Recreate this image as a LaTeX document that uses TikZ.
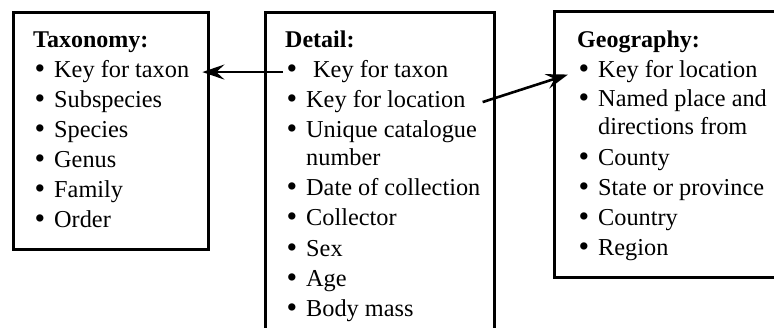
\documentclass[tikz,border=0pt]{standalone}
\usepackage{fontspec}
\setmainfont{Liberation Serif}
\usetikzlibrary{arrows.meta}
\newcommand{\bul}[1][20pt]{\makebox[#1][l]{\hspace{0.5pt}\raisebox{-0.6pt}{\scalebox{1.25}{•}}}}
\begin{document}
\begin{tikzpicture}[x=1pt,y=-1pt,
  box/.style={draw,line width=2.8pt,anchor=north west,inner sep=0pt},
  txt/.style={anchor=base west,inner sep=0pt,font=\fontsize{24.3}{30}\selectfont},
  hd/.style={txt,font=\fontsize{24}{30}\selectfont\bfseries},
  arr/.style={line width=2.6pt,-{Stealth[length=22pt,width=15pt,inset=8pt]}}]
\useasboundingbox (0,0) rectangle (774,328);
% boxes
\node[box,minimum width=195pt,minimum height=237pt] (taxbox) at (12,11) {};
\node[box,minimum width=229pt,minimum height=330pt] (detbox) at (264,11) {};
\node[box,minimum width=230pt,minimum height=266pt] (geobox) at (553,10) {};
% Taxonomy
\node[hd] (th) at (33,48) {Taxonomy:};
\node[txt] (t1) at (34,78) {\bul Key for taxon};
\node[txt] (t2) at (34,108) {\bul Subspecies};
\node[txt] (t3) at (34,138) {\bul Species};
\node[txt] (t4) at (34,168) {\bul Genus};
\node[txt] (t5) at (34,198) {\bul Family};
\node[txt] (t6) at (34,228) {\bul Order};
% Detail
\node[hd] (dh) at (285,48) {Detail:};
\node[txt] (d1) at (286,78) {\bul[27pt]Key for taxon};
\node[txt] (d2) at (286,108) {\bul Key for location};
\node[txt] (d3) at (286,138) {\bul Unique catalogue};
\node[txt] (d3b) at (306,166) {number};
\node[txt] (d4) at (286,196) {\bul Date of collection};
\node[txt] (d5) at (286,226) {\bul Collector};
\node[txt] (d6) at (286,257) {\bul Sex};
\node[txt] (d7) at (286,287) {\bul Age};
\node[txt] (d8) at (286,317) {\bul Body mass};
% Geography
\node[hd] (gh) at (577,48) {Geography:};
\node[txt] (g1) at (578,78) {\bul Key for location};
\node[txt] (g2) at (578,107) {\bul Named place and};
\node[txt] (g2b) at (598,135) {directions from};
\node[txt] (g3) at (578,166) {\bul County};
\node[txt] (g4) at (578,196) {\bul State or province};
\node[txt] (g5) at (578,226) {\bul Country};
\node[txt] (g6) at (578,256) {\bul Region};
% arrows
\draw[arr] ([xshift=-3pt]d1.west) -- ([xshift=13pt]t1.east);
\draw[arr] ([xshift=17pt]d2.east) -- ([xshift=-10pt,yshift=-2.5pt]g1.west);
\end{tikzpicture}
\end{document}
